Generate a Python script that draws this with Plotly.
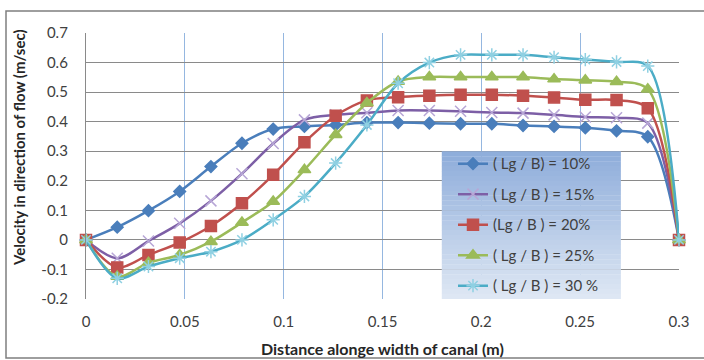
import plotly.graph_objects as go

# ---------------- data ----------------
distance = [0, 0.0158, 0.0316, 0.0474, 0.0632, 0.0789, 0.0947, 0.1105, 0.1263, 0.1421,
            0.1579, 0.1737, 0.1895, 0.2053, 0.2211, 0.2368, 0.2526, 0.2684, 0.2842, 0.3]

v_10 = [0, 0.043, 0.099, 0.164, 0.248, 0.327, 0.375, 0.384, 0.389, 0.397,
        0.397, 0.395, 0.393, 0.393, 0.387, 0.384, 0.379, 0.369, 0.349, 0]
v_15 = [0, -0.062, -0.004, 0.056, 0.132, 0.224, 0.326, 0.406, 0.423, 0.430,
        0.438, 0.438, 0.435, 0.431, 0.429, 0.423, 0.416, 0.413, 0.395, 0]
v_20 = [0, -0.093, -0.051, -0.009, 0.047, 0.124, 0.220, 0.330, 0.420, 0.472,
        0.483, 0.488, 0.491, 0.491, 0.488, 0.482, 0.474, 0.473, 0.445, 0]
v_25 = [0, -0.124, -0.077, -0.051, -0.006, 0.059, 0.130, 0.237, 0.356, 0.463,
        0.536, 0.551, 0.551, 0.551, 0.551, 0.544, 0.540, 0.535, 0.510, 0]
v_30 = [0, -0.130, -0.090, -0.062, -0.040, 0.000, 0.068, 0.147, 0.260, 0.389,
        0.530, 0.600, 0.626, 0.626, 0.626, 0.618, 0.610, 0.602, 0.588, 0]

series_names = ["( Lg / B) = 10%", "( Lg / B ) = 15%", "(Lg / B ) = 20%",
                "( Lg / B ) = 25%", "( Lg / B ) = 30 %"]

y_tickvals = [-0.2, -0.1, 0, 0.1, 0.2, 0.3, 0.4, 0.5, 0.6, 0.7]
y_ticktext = ["-0.2", "-0.1", "0", "0.1", "0.2", "0.3", "0.4", "0.5", "0.6", "0.7"]
x_tickvals = [0, 0.05, 0.1, 0.15, 0.2, 0.25, 0.3]
x_ticktext = ["0", "0.05", "0.1", "0.15", "0.2", "0.25", "0.3"]

x_title = "Distance alonge width of canal (m)"
y_title = "Velocity in direction of flow (m/sec)"

# ---------------- styling ----------------
FONT = "Lato"
styles = [
    dict(color="#4a7ebb", symbol="diamond", size=9, mline="#4a7ebb", mcolor="#4a7ebb"),
    dict(color="#7d5fa6", symbol="x-thin-open", size=11, mline="#b7a6d6", mcolor="#b7a6d6"),
    dict(color="#c0504d", symbol="square", size=11, mline="#c0504d", mcolor="#c0504d"),
    dict(color="#9bbb59", symbol="triangle-up", size=11, mline="#9bbb59", mcolor="#9bbb59"),
    dict(color="#4bacc6", symbol="asterisk-open", size=11, mline="#8fd0e2", mcolor="#8fd0e2"),
]

fig = go.Figure()
for name, vals, st in zip(series_names, [v_10, v_15, v_20, v_25, v_30], styles):
    fig.add_trace(go.Scatter(
        x=distance, y=vals, name=name, mode="lines+markers",
        legendgroup=name,
        line=dict(color=st["color"], width=2.5, shape="spline", smoothing=0.9),
        marker=dict(symbol=st["symbol"], size=st["size"], color=st["mcolor"],
                    line=dict(color=st["mline"], width=1.5)),
        cliponaxis=False,
    ))

# legend background gradient (drawn as stacked stripes)
shapes = []
top_c = (0x8f, 0xae, 0xdb)
bot_c = (0xde, 0xe7, 0xf4)
n = 30
y_top, y_bot = 0.554, 0.0
for i in range(n):
    t = i / (n - 1)
    c = tuple(int(top_c[k] + (bot_c[k] - top_c[k]) * t) for k in range(3))
    y0 = y_top - (y_top - y_bot) * i / n
    y1 = y_top - (y_top - y_bot) * (i + 1) / n
    shapes.append(dict(type="rect", xref="paper", yref="paper",
                       x0=0.600, x1=0.902, y0=y1, y1=y0 + 0.001,
                       fillcolor="rgb(%d,%d,%d)" % c, line=dict(width=0), layer="above"))

# outer chart border
shapes.append(dict(type="rect", xref="paper", yref="paper",
                   x0=(6 - 86) / 593, x1=(712 - 86) / 593,
                   y0=(299 - 358) / 266, y1=(299 - 11) / 266,
                   line=dict(color="#7f7f7f", width=1.5), fillcolor="rgba(0,0,0,0)",
                   layer="below"))

fig.update_layout(
    width=704, height=360,
    margin=dict(l=86, r=25, t=33, b=61),
    paper_bgcolor="white", plot_bgcolor="white",
    font=dict(family=FONT, size=15, color="#404040"),
    showlegend=True,
    legend=dict(x=(453 - 86) / 593, y=0.570, xanchor="left", yanchor="top",
                bgcolor="rgba(0,0,0,0)", borderwidth=0,
                font=dict(family=FONT, size=15, color="#404040"),
                tracegroupgap=8, itemwidth=30),
    shapes=shapes,
    xaxis=dict(range=[0, 0.3], tickvals=x_tickvals, ticktext=x_ticktext,
               showgrid=True, gridcolor="#95b7e0", gridwidth=1,
               zeroline=False, showline=False, ticks="", ticklabelstandoff=12,
               tickfont=dict(family=FONT, size=15, color="#404040")),
    yaxis=dict(range=[-0.2, 0.7], tickvals=y_tickvals, ticktext=y_ticktext,
               showgrid=True, gridcolor="#8a8a8a", gridwidth=1.3,
               zeroline=False, showline=True, linecolor="#8a8a8a", linewidth=1.3,
               ticks="", ticklabelstandoff=14,
               tickfont=dict(family=FONT, size=15, color="#404040")),
    annotations=[
        dict(text="<b>" + x_title + "</b>", xref="paper", yref="paper",
             x=0.5, y=(299 - 348) / 266, xanchor="center", yanchor="middle",
             showarrow=False, font=dict(family=FONT, size=16, color="#262626")),
        dict(text="<b>" + y_title + "</b>", xref="paper", yref="paper",
             x=(19 - 86) / 593, y=(299 - 148) / 266, xanchor="center", yanchor="middle",
             textangle=-90, showarrow=False,
             font=dict(family=FONT, size=15, color="#262626")),
    ],
)

fig.write_html("out.html", config={"displayModeBar": False},
               post_script="document.body.style.margin='0';")
